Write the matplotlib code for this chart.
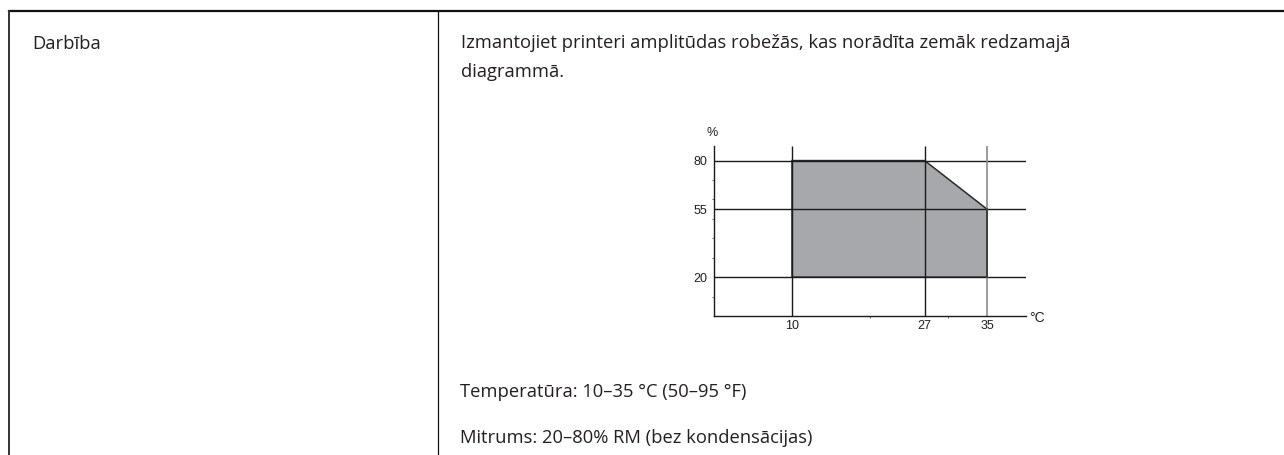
import matplotlib
matplotlib.use("Agg")
import matplotlib.pyplot as plt

# operating range (temperature °C vs humidity %)
temp_c = [10, 10, 27, 35, 35]
humid = [20, 80, 80, 55, 20]
x_ticks = [10, 27, 35]
y_ticks = [20, 55, 80]
x_minor = [20, 30]
y_minor = [10, 30, 40, 50, 60, 70]

label_left = "Darbība"
intro = ["Izmantojiet printeri amplitūdas robežās, kas norādīta zemāk redzamajā",
         "diagrammā."]
temp_txt = "Temperatūra: 10–35 °C (50–95 °F)"
hum_txt = "Mitrums: 20–80% RM (bez kondensācijas)"

W, H = 1284, 455
INK = "#231f20"
BODY = dict(family="Open Sans", fontsize=13.2, color=INK, va="baseline")

def fx(px): return px / W
def fy(py): return 1 - py / H

fig = plt.figure(figsize=(W / 100, H / 100), dpi=100)

# table borders
fig.add_artist(plt.Line2D([fx(9), 1], [fy(11), fy(11)], color="#111", lw=1.6))
fig.add_artist(plt.Line2D([fx(9), fx(9)], [fy(11), 0], color="#333", lw=1.4))
fig.add_artist(plt.Line2D([fx(438), fx(438)], [fy(11), 0], color="#111", lw=0.9))

fig.text(fx(32), fy(49), label_left, **BODY)
fig.text(fx(461), fy(48), intro[0], **BODY)
fig.text(fx(461), fy(77), intro[1], **BODY)
fig.text(fx(460), fy(397), temp_txt, **BODY)
fig.text(fx(460), fy(443), hum_txt, **BODY)

# chart
x0, x1, y0, y1 = 714, 1026, 146, 316
ax = fig.add_axes([fx(x0), fy(y1), fx(x1 - x0), (y1 - y0) / H])
XMAX, YMAX = 40, 87.5
ax.set_xlim(0, XMAX); ax.set_ylim(0, YMAX)
ax.fill(temp_c, humid, facecolor="#a7a8ab", edgecolor="#2a2a2a", lw=1.1, zorder=1)
ax.hlines(y_ticks, 0, XMAX, color="#1a1a1a", lw=1.0, zorder=2)
ax.vlines(x_ticks[:2], 0, YMAX, color="#1a1a1a", lw=1.0, zorder=2)
ax.vlines(x_ticks[2], 0, YMAX, color="#8a8a8a", lw=1.2, zorder=2)
ax.plot([35, 35], [20, 55], color="#333", lw=1.2, zorder=3)
for s in ("top", "right"):
    ax.spines[s].set_visible(False)
for s in ("left", "bottom"):
    ax.spines[s].set_color("#1a1a1a"); ax.spines[s].set_linewidth(1.0)
ax.set_xticks(x_ticks); ax.set_yticks(y_ticks)
ax.set_xticks(x_minor, minor=True); ax.set_yticks(y_minor, minor=True)
ax.tick_params(which="major", length=0, labelsize=9, labelcolor=INK)
ax.tick_params(axis="x", which="major", pad=3)
ax.tick_params(axis="y", which="major", pad=4.5)
ax.tick_params(which="minor", length=1.5, width=0.6, color="#555")
for t in ax.get_xticklabels() + ax.get_yticklabels():
    t.set_family("Liberation Sans")
ax.set_facecolor("none")
fig.text(fx(712), fy(133), "%", family="Liberation Sans", fontsize=9, color=INK,
         ha="center", va="center")
fig.text(fx(1037), fy(318), "°C", family="Liberation Sans", fontsize=10, color=INK,
         ha="center", va="center")

fig.savefig("out.png", dpi=100)
